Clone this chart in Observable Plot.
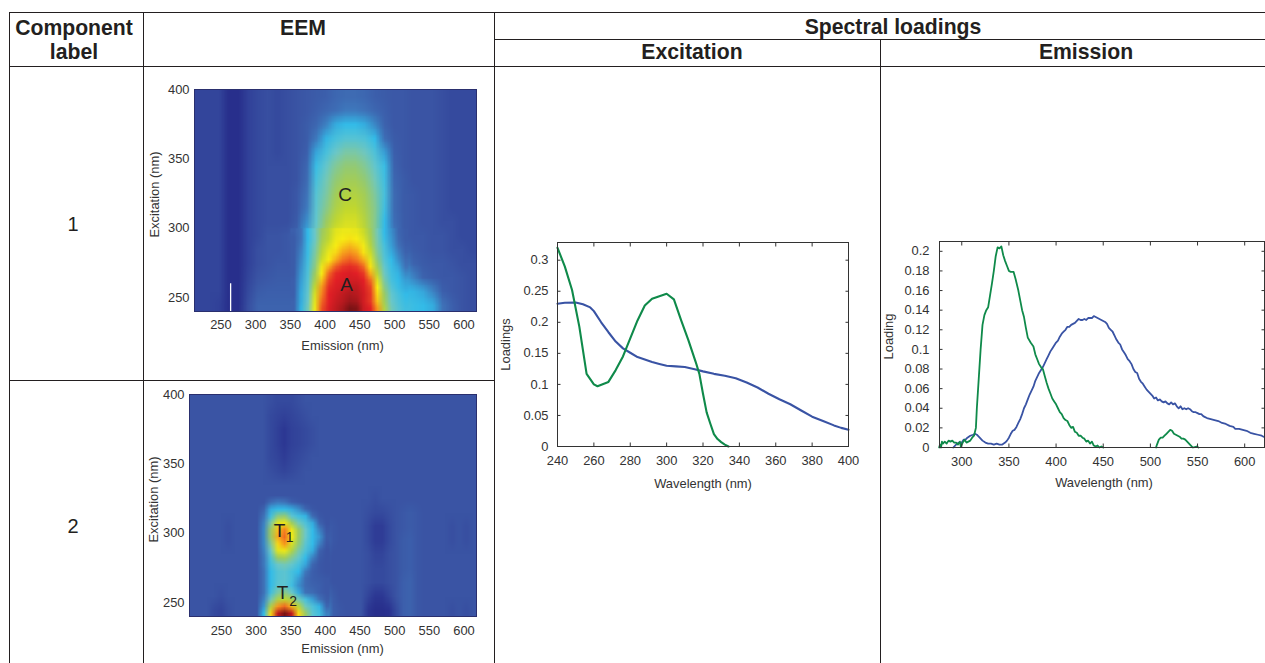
<!DOCTYPE html>
<html><head><meta charset="utf-8">
<script src="https://cdn.jsdelivr.net/npm/d3@7"></script>
<script src="https://cdn.jsdelivr.net/npm/@observablehq/plot@0.6"></script>
<style>
html,body{margin:0;padding:0;background:#fff;overflow:hidden}
#page{position:relative;width:1265px;height:663px;font-family:"Liberation Sans",Arial,sans-serif;color:#231f20}
.r{position:absolute;background:#231f20}
.t{position:absolute;transform:translate(-50%,-50%);white-space:nowrap}
.h{font-weight:bold;font-size:21.2px}
.n{font-size:20px}
#page svg{position:absolute;overflow:visible}
</style></head><body><div id="page"></div>
<script>
const eemStops=[0,5,12,20,30,38,50,60,70,80,88,100];
const eemColors=["#252a85","#2a3290","#3a54a4","#3f72b8","#33bbe8","#6bc7c8","#9bca63","#c0d72f","#f7ec13","#f58220","#e21f26","#7a1315"];

// Component 1 EEM: rows excitation 395..245, columns emission 219..611 (step 14)
const eem1Rows=[
[9,9,9,3,3,8,10,11,10,11,12,13,14,15,17,18,18,17,15,14,13,13,12,12,12,11,10,10,10],
[9,9,9,3,3,8,10,11,10,11,12,13,15,17,19,21,21,20,17,15,13,13,12,12,12,11,10,10,10],
[9,9,9,3,3,8,10,11,10,11,12,14,17,22,28,30,30,28,23,16,13,13,12,12,12,11,10,10,10],
[9,9,9,3,3,8,10,11,10,11,12,14,21,29,33,35,35,34,30,19,14,13,12,12,12,11,10,10,10],
[9,9,9,3,3,8,10,11,10,11,12,15,27,33,38,42,42,39,34,26,15,13,12,12,12,11,10,10,10],
[9,9,9,3,3,8,10,11,11,11,12,17,31,37,44,48,48,44,37,31,16,13,12,12,12,11,10,10,10],
[9,9,9,3,3,8,10,11,11,11,12,18,33,40,48,52,52,48,40,32,17,14,12,12,12,11,10,10,10],
[9,9,9,3,3,8,10,11,11,11,13,20,35,42,52,56,56,52,43,33,18,14,13,12,12,11,10,10,10],
[9,9,9,3,3,8,10,11,11,11,13,21,36,45,55,60,60,54,45,32,18,14,13,12,12,11,10,10,10],
[9,9,9,3,3,8,10,11,11,11,14,24,37,50,60,64,64,57,45,30,19,14,13,12,12,11,11,10,10],
[9,9,9,3,3,8,10,12,12,13,16,28,40,55,66,68,67,60,45,30,21,14,13,13,12,12,11,10,10],
[9,9,9,3,3,8,11,12,12,13,14,30,40,60,68,72,72,66,50,33,21,17,14,13,12,12,11,11,10],
[9,9,9,3,3,8,11,12,13,13,14,32,48,68,76,80,81,76,66,48,30,22,16,14,13,13,12,11,11],
[9,9,9,3,3,9,12,13,14,14,14,36,60,78,85,88,89,85,75,60,36,27,22,16,14,13,13,12,11],
[9,9,9,3,3,10,14,15,15,15,15,45,70,86,90,93,95,92,84,68,40,30,29,27,22,15,13,12,11],
[9,9,8,3,3,11,16,16,16,16,16,52,72,90,93,97,100,98,90,70,42,33,31,30,28,20,15,12,11]
];
// Component 1 peak detail: rows excitation 297.5..242.5 (step 5), columns emission 355..515 (step 10)
const eem1PeakRows=[
[15,20,30,38,50,58,66,68,68,67,62,52,40,30,24,17,14],
[14,20,30,38,52,60,68,70,71,70,65,54,41,31,25,18,14],
[14,21,31,40,55,64,70,73,75,73,69,57,42,33,26,20,15],
[14,22,31,42,58,68,72,77,79,77,71,62,44,34,28,22,16],
[14,23,32,44,62,70,76,81,83,81,76,66,47,35,30,24,18],
[14,24,33,46,68,76,83,86,87,86,82,71,52,37,31,27,20],
[14,25,34,50,70,82,87,88,89,88,86,76,58,39,32,29,23],
[15,26,35,54,74,85,88,89,90,90,88,82,65,42,33,30,26],
[15,27,36,60,78,87,89,90,92,92,89,85,70,46,35,31,28],
[15,28,37,64,80,88,90,92,94,93,90,86,72,50,37,33,30],
[16,28,38,66,82,88,91,93,96,95,90,86,74,52,38,34,31],
[16,29,40,68,84,89,92,95,100,99,91,88,78,56,40,35,32]
];

// Component 2 EEM: rows excitation 395..245, columns emission 209..613 (step about 10)
const eem2Rows=[
[12,12,12,12,12,12,12,12,12,12,12,11,10,10,10,11,12,12,12,12,12,12,12,12,12,12,12,12,12,12,12,12,12,12,12,12,12,12,12,12,12],
[12,12,12,12,12,12,12,12,12,12,12,10,9,8,9,10,11,12,12,12,12,12,12,12,12,12,12,12,12,12,12,12,12,12,12,12,12,12,12,12,12],
[12,12,12,12,12,12,12,12,12,12,12,10,8,6,8,9,10,11,12,12,12,12,12,12,12,12,12,12,12,12,12,12,12,12,12,12,12,12,12,12,12],
[12,12,12,12,12,12,12,12,12,12,12,10,8,6,8,9,10,11,12,12,12,12,12,12,12,12,12,12,12,12,12,12,12,12,12,12,12,12,12,12,12],
[12,12,12,12,12,12,12,12,12,12,12,10,9,7,9,10,11,12,12,12,12,12,12,12,12,12,12,12,12,12,12,12,12,12,12,12,12,12,12,12,12],
[12,12,12,12,12,12,12,12,12,12,12,11,10,9,10,11,12,12,12,12,12,12,12,12,12,12,12,12,12,12,12,12,12,12,12,12,12,12,12,12,12],
[12,12,12,12,12,12,12,12,12,12,12,12,12,12,12,12,12,12,12,12,12,12,12,12,12,12,12,12,12,12,12,12,12,12,12,12,12,12,12,12,12],
[12,12,12,12,12,12,12,12,12,12,12,12,12,12,12,12,12,12,12,12,12,12,12,12,12,12,11,12,12,12,12,12,12,12,12,12,12,12,12,12,12],
[12,12,12,12,12,12,12,12,12,12,12,12,12,12,12,12,12,12,12,12,12,12,12,12,12,11,10,10,11,12,13,14,13,12,12,12,12,12,12,12,12],
[12,12,12,12,12,11,12,12,12,12,12,12,12,12,12,12,12,12,12,14,13,12,12,12,12,10,7,7,10,12,13,14,13,12,12,12,12,11,12,11,12],
[12,12,12,12,12,11,12,12,12,12,12,12,12,12,12,12,12,12,12,17,13,12,12,12,12,10,7,7,10,12,14,15,13,12,12,12,12,11,12,11,12],
[12,12,12,12,12,12,12,12,12,12,12,12,12,12,12,12,12,12,12,14,12,12,12,12,12,11,9,9,11,12,14,15,13,12,12,12,12,12,12,12,12],
[12,12,12,12,12,12,12,12,12,12,12,12,12,12,12,12,12,12,12,13,12,12,12,12,12,11,10,10,11,12,14,15,13,12,12,12,12,12,12,12,12],
[12,12,12,12,12,12,12,12,12,12,12,12,12,12,12,12,12,12,12,14,12,12,12,12,12,11,10,10,11,12,15,16,13,12,12,12,12,12,12,12,12],
[12,12,12,12,11,12,12,12,12,12,12,12,12,12,12,12,12,12,12,18,14,12,12,12,12,9,6,6,9,12,15,16,13,12,12,12,12,12,12,12,12],
[12,12,12,10,9,11,12,12,12,12,12,12,12,12,12,12,12,12,12,24,15,13,12,12,12,6,3,3,5,10,15,16,13,12,12,12,12,11,12,11,12]
];
// Component 2 peak detail: rows excitation 327.5..242.5 (step 5), columns emission 301..401 (step 10)
const eem2PeakRows=[
[12,12,12,12,12,12,12,12,12,12,12],
[12,12,18,21,20,15,13,12,12,12,12],
[12,16,28,30,30,28,24,17,13,12,12],
[12,20,32,46,48,36,32,29,18,13,12],
[12,22,42,66,68,52,40,34,28,16,12],
[12,23,50,74,80,68,50,38,30,22,13],
[12,23,50,76,82,70,50,38,30,25,14],
[12,23,44,72,78,64,48,36,30,22,13],
[12,22,38,66,68,56,42,34,28,16,12],
[12,21,34,50,52,44,37,30,22,14,12],
[12,21,32,38,40,37,33,27,17,13,12],
[12,20,30,35,36,33,30,21,15,13,12],
[12,20,30,35,36,33,26,18,15,14,13],
[12,20,30,36,36,32,24,18,16,15,13],
[12,20,32,42,46,38,28,20,18,15,13],
[12,22,40,55,60,54,40,33,26,20,14],
[12,25,55,78,82,75,58,40,34,29,17],
[12,30,72,92,100,92,72,50,36,32,22]
];

const excWl=[240,244,248,252,256,260,262,268,272,276,280,284,288,292,296,300,304,308,312,316,318,320,322,324,326,328,330,332,334];
const excGreen=[.32,.29,.252,.193,.117,.1,.097,.104,.123,.145,.174,.203,.227,.238,.242,.246,.237,.203,.171,.136,.117,.085,.055,.037,.02,.012,.007,.003,0];
const excBlueWl=[240,244,250,254,258,260,264,268,272,276,280,284,288,292,296,300,305,310,316,320,326,332,338,344,350,356,362,368,374,380,386,392,396,400];
const excBlue=[.23,.2315,.232,.229,.224,.218,.2,.184,.169,.158,.151,.144,.14,.136,.133,.13,.129,.128,.124,.121,.117,.114,.11,.103,.095,.085,.076,.068,.058,.048,.041,.034,.03,.027];

const emGreenWl=[276,277,278,279,280,282,284,286,288,290,292,294,296,298,299,301,303,305,307,309,311,313,315,316,318,320,322,324,326,328,330,332,334,336,338,340,342,344,346,348,350,352,355,357,360,362,364,366,368,370,373,376,378,380,382,384,386,388,390,392,394,396,398,400,402,404,406,408,410,412,414,416,418,420,422,424,426,428,430,432,434,436,438,440,442,444,446,448,450];
const emGreen=[0,.003,0,.006,.004,.006,.004,.007,.006,.007,.005,.005,.003,.006,.001,.005,.008,.005,.006,.007,.01,.012,.02,.04,.07,.1,.125,.135,.14,.143,.155,.167,.18,.195,.204,.203,.205,.196,.19,.185,.18,.179,.179,.172,.16,.15,.14,.133,.122,.112,.107,.103,.095,.09,.085,.082,.08,.073,.066,.06,.055,.05,.047,.044,.04,.036,.034,.03,.028,.027,.023,.02,.021,.016,.015,.012,.012,.01,.009,.006,.007,.004,.006,.002,.001,.002,0,.001,0];
const emGreen2Wl=[506,507,509,511,513,515,517,519,521,523,525,527,529,531,533,535,537,539,541,543,545,547,549,551];
const emGreen2=[0,.003,.008,.01,.01,.012,.014,.016,.018,.017,.014,.013,.012,.011,.009,.009,.008,.006,.004,.002,0,.0005,.001,0];
const emBlueWl=[291,294,297,300,302,304,306,309,312,314,316,318,320,322,325,328,331,334,337,340,343,346,348,350,352,354,356,358,360,362,364,366,368,370,372,374,376,378,380,382,384,386,388,390,392,394,396,398,400,402,404,406,408,410,412,414,416,418,420,422,424,426,428,430,432,434,436,438,440,442,444,446,448,450,452,454,456,458,460,462,464,466,468,470,472,474,476,478,480,482,484,486,488,490,492,494,496,498,500,502,504,506,508,510,512,514,516,518,520,522,524,526,528,530,532,534,536,538,540,542,544,546,548,550,552,554,556,558,560,564,568,572,576,580,584,588,590,594,598,602,606,610,614,618,620];
const emBlue=[0,.003,.005,.005,.008,.008,.01,.012,.013,.014,.013,.011,.009,.007,.005,.004,.004,.003,.004,.003,.003,.005,.007,.01,.014,.017,.018,.021,.025,.029,.034,.04,.044,.049,.054,.058,.062,.068,.072,.076,.079,.082,.086,.09,.094,.098,.101,.104,.107,.109,.113,.116,.118,.12,.123,.123,.125,.126,.127,.129,.131,.13,.13,.131,.13,.132,.132,.132,.134,.133,.132,.131,.13,.129,.128,.126,.122,.12,.118,.114,.11,.107,.105,.1,.097,.094,.09,.088,.085,.08,.077,.076,.07,.067,.065,.062,.059,.057,.055,.053,.05,.051,.048,.049,.047,.046,.047,.045,.044,.046,.044,.045,.042,.04,.042,.039,.04,.039,.04,.039,.037,.036,.036,.035,.034,.034,.032,.031,.03,.029,.028,.027,.025,.024,.022,.021,.019,.019,.018,.017,.015,.014,.013,.012,.011];

const textColor="#333", font='"Liberation Sans",Arial,sans-serif', axisSize=12.9;
const page=document.getElementById("page");
function seg(x,y,w,h){const d=document.createElement("div");d.className="r";d.style.cssText=`left:${x}px;top:${y}px;width:${w}px;height:${h}px`;page.append(d);}
function label(s,x,y,c){const d=document.createElement("div");d.className="t "+c;d.textContent=s;d.style.left=x+"px";d.style.top=y+"px";page.append(d);}
seg(9,12,1256,1);seg(494,39,771,1);seg(9,66,1256,1);seg(9,380,486,1);
seg(9,12,1,651);seg(143,12,1,651);seg(494,12,1,651);seg(880,39,1,624);
label("Component",74,28,"h");label("label",74,52,"h");label("EEM",303,28,"h");
label("Spectral loadings",893,27,"h");label("Excitation",692,52,"h");label("Emission",1086,52,"h");
label("1",73,224,"n");label("2",73,526,"n");

function place(svg,left,top){svg.style.left=left+"px";svg.style.top=top+"px";page.append(svg);}
const titleX=(s,dx,dy)=>Plot.text([s],{text:d=>d,frameAnchor:"bottom",dx,dy,fontSize:axisSize,fill:textColor,lineAnchor:"middle"});
const titleY=(s,dx,dy)=>Plot.text([s],{text:d=>d,frameAnchor:"left",dx,dy,rotate:-90,fontSize:axisSize,fill:textColor,lineAnchor:"middle",textAnchor:"middle"});

function eemPlot({rows,xDomain,box,notes,details,extra=[],xT,yT,xPad}){
  const [L,T,R,B]=box, mL=46,mR=12,mT=10,mB=46;
  const svg=Plot.plot({
    width:R-L+mL+mR,height:B-T+mT+mB,marginLeft:mL,marginRight:mR,marginTop:mT,marginBottom:mB,
    style:{background:"transparent",fontFamily:font,fontSize:axisSize+"px",color:textColor},
    x:{domain:xDomain},y:{domain:[240,400]},
    color:{type:"linear",domain:eemStops,range:eemColors,interpolate:"rgb",clamp:true},
    marks:[
      Plot.raster(rows.flat(),{width:rows[0].length,height:rows.length,x1:xDomain[0],x2:xDomain[1],y1:400,y2:240,fill:d=>d}),
      ...details.map(p=>Plot.raster(p.rows.flat(),{width:p.rows[0].length,height:p.rows.length,x1:p.x[0],x2:p.x[1],y1:p.y[0],y2:p.y[1],fill:d=>d})),
      ...extra,
      Plot.frame({stroke:"#2a2f6e",strokeWidth:1}),
      Plot.axisX({ticks:[250,300,350,400,450,500,550,600],tickSize:0,tickPadding:xPad,label:null,tickFormat:d=>String(d),fontSize:axisSize}),
      Plot.axisY({ticks:[250,300,350,400],tickSize:0,tickPadding:5,label:null,tickFormat:d=>String(d),fontSize:axisSize}),
      titleX("Emission (nm)",...xT),titleY("Excitation (nm)",...yT),
      ...notes.map(n=>Plot.text([n],{x:"em",y:"ex",text:"s",fontSize:n.size,fill:"#231f20"}))
    ]
  });
  place(svg,L-mL,T-mT);
}
eemPlot({rows:eem1Rows,xDomain:[212,618],box:[194,89,476,311],xPad:8,xT:[7,34],yT:[-40,-6],
  details:[{rows:eem1PeakRows,x:[350,520],y:[300,240]}],
  notes:[{s:"C",em:429,ex:324,size:19},{s:"A",em:431,ex:259,size:19}],
  extra:[Plot.ruleX([264],{y1:240,y2:260,stroke:"#fff",strokeWidth:1.3})]});
eemPlot({rows:eem2Rows,xDomain:[204,618],box:[189,394,476,616],xPad:9,xT:[9.5,32],yT:[-35.5,-6],
  details:[{rows:eem2PeakRows,x:[296,406],y:[330,240]}],
  notes:[{s:"T",em:334,ex:302,size:19},{s:"1",em:348.6,ex:296.7,size:14},{s:"T",em:338.4,ex:256.9,size:19},{s:"2",em:353.5,ex:250.6,size:14}]});

function linePlot({box,xDomain,yDomain,xTicks,yTicks,yLabel,series,sw,xPad,yPad,xT,yT}){
  const [L,T,R,B]=box, mL=62,mR=10,mT=10,mB=46;
  const fmt=d=>String(d);
  const svg=Plot.plot({
    width:R-L+mL+mR,height:B-T+mT+mB,marginLeft:mL,marginRight:mR,marginTop:mT,marginBottom:mB,
    style:{background:"transparent",fontFamily:font,fontSize:axisSize+"px",color:textColor},
    x:{domain:xDomain},y:{domain:yDomain},
    marks:[
      ...series.map(s=>Plot.line(s.x.map((x,i)=>({x,y:s.y[i]})),{x:"x",y:"y",stroke:s.c,strokeWidth:sw})),
      Plot.frame({stroke:"#333",strokeWidth:1}),
      Plot.axisX({anchor:"bottom",ticks:xTicks,tickSize:-3.5,tickPadding:xPad,label:null,tickFormat:fmt,stroke:"#333",fontSize:axisSize}),
      Plot.axisX({anchor:"top",ticks:xTicks,tickSize:-3.5,tickFormat:()=>"",label:null,stroke:"#333"}),
      Plot.axisY({anchor:"left",ticks:yTicks,tickSize:-3.5,tickPadding:yPad,label:null,tickFormat:fmt,stroke:"#333",fontSize:axisSize}),
      Plot.axisY({anchor:"right",ticks:yTicks,tickSize:-3.5,tickFormat:()=>"",label:null,stroke:"#333"}),
      titleX("Wavelength (nm)",...xT),titleY(yLabel,...yT)
    ]
  });
  place(svg,L-mL,T-mT);
}
const blue="#3953a4", green="#0f8a4a";
linePlot({box:[557,242,848,446],xDomain:[240,400],yDomain:[0,.3285],
  xTicks:[240,260,280,300,320,340,360,380,400],yTicks:[0,.05,.1,.15,.2,.25,.3],yLabel:"Loadings",sw:2.1,xPad:13,yPad:12.5,xT:[0,37],yT:[-52,0],
  series:[{x:excBlueWl,y:excBlue,c:blue},{x:excWl,y:excGreen,c:green}]});
linePlot({box:[939,241,1264,447],xDomain:[276.4,621],yDomain:[0,.21],
  xTicks:[300,350,400,450,500,550,600],yTicks:[0,.02,.04,.06,.08,.1,.12,.14,.16,.18,.2],yLabel:"Loading",sw:1.8,xPad:13,yPad:13.5,xT:[2,35],yT:[-50.5,-8],
  series:[{x:emBlueWl,y:emBlue,c:blue},{x:emGreenWl,y:emGreen,c:green},{x:emGreen2Wl,y:emGreen2,c:green}]});
</script></body></html>
